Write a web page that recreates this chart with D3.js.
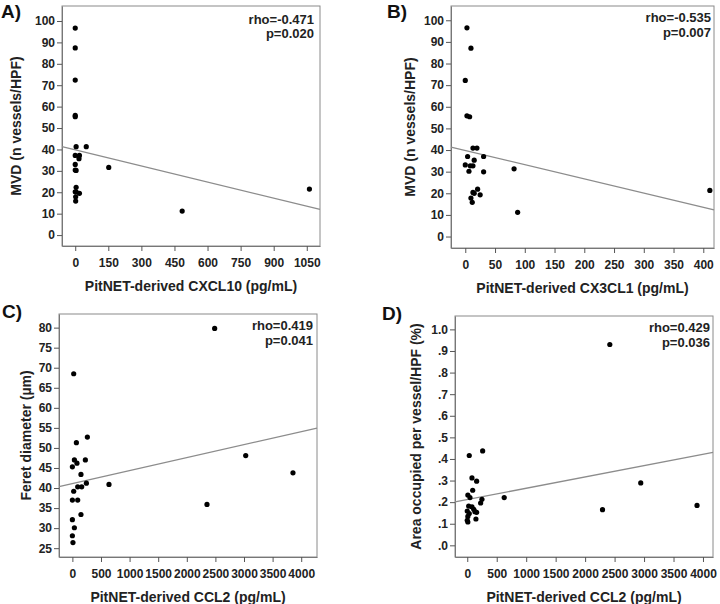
<!DOCTYPE html>
<html><head><meta charset="utf-8">
<script src="https://cdn.jsdelivr.net/npm/d3@7"></script>
<style>
body{margin:0;background:#fff;}
svg{font-family:"Liberation Sans",Arial,sans-serif;font-weight:bold;}
</style></head>
<body>
<svg id="chart" width="720" height="604"></svg>
<script>
// Panel A: CXCL10 vs MVD
const cxcl10X = [0,0,0,0,0,4,50,0,19,17,0,0,4,152,4,0,4,19,2,2,485,1062];
const mvdA    = [96.7,87.4,72.4,55.9,55.3,41.3,41.3,37.2,37.2,35.7,33.0,30.4,30.2,31.6,22.3,20.2,20.2,19.5,17.9,15.9,11.2,21.5];
// Panel B: CX3CL1 vs MVD
const cx3cl1X = [2.8,9.5,0,2.8,7.3,12.9,19.6,3.9,30.8,15,0,8.4,12.9,6.2,30.8,82,20.7,12.9,15,25,9.5,11.7,88,411];
const mvdB    = [96.5,87.1,72.2,55.8,55.4,40.9,40.9,37.0,37.0,35.3,33.1,32.7,32.7,30.2,29.9,31.3,21.9,20.4,20.0,19.3,17.8,15.8,11.2,21.3];
// Panel C: CCL2 vs Feret diameter
const ccl2C   = [23,70,262,35,0,80,227,150,245,640,23,93,163,0,93,150,0,35,0,10,2353,3030,2487,3856];
const feretC  = [68.5,51.3,52.7,47.0,45.3,46.2,47.0,43.4,41.2,40.9,39.2,40.3,40.3,37.0,37.0,33.4,32.1,30.1,28.1,26.4,35.9,48.1,79.8,43.8];
// Panel D: CCL2 vs area per vessel
const ccl2D   = [34,261,80,159,92,10,46,249,227,627,24,80,110,0,34,130,159,10,0,10,147,2295,2419,2944,3899];
const areaD   = [0.416,0.437,0.312,0.297,0.255,0.233,0.221,0.213,0.196,0.221,0.182,0.178,0.167,0.159,0.147,0.156,0.153,0.134,0.116,0.108,0.122,0.165,0.930,0.289,0.185];

const panelLabels = ["A)","B)","C)","D)"];
const xTitles = ["PitNET-derived CXCL10 (pg/mL)","PitNET-derived CX3CL1 (pg/mL)","PitNET-derived CCL2 (pg/mL)","PitNET-derived CCL2 (pg/mL)"];
const yTitles = ["MVD (n vessels/HPF)","MVD (n vessels/HPF)","Feret diameter (\u00b5m)","Area occupied per vessel/HPF (%)"];
const rhoTexts = ["rho=-0.471","rho=-0.535","rho=0.419","rho=0.429"];
const pTexts = ["p=0.020","p=0.007","p=0.041","p=0.036"];
const xTicksA = [0,150,300,450,600,750,900,1050];
const xTicksB = [0,50,100,150,200,250,300,350,400];
const xTicksCD = [0,500,1000,1500,2000,2500,3000,3500,4000];
const yTicksMVD = [0,10,20,30,40,50,60,70,80,90,100];
const yTicksFeret = [25,30,35,40,45,50,55,60,65,70,75,80];
const yTicksArea = [0,0.1,0.2,0.3,0.4,0.5,0.6,0.7,0.8,0.9,1.0];
const fitIntercepts = [39.8,39.8,41.1,0.212];
const fitSlopes = [-0.02504,-0.0658,0.00324,0.0000525];

const svg = d3.select("#chart");

const panels = [
  {x:cxcl10X,y:mvdA,xd:[-60,1110],yd:[-5.1,107],L:62,R:320,T:6,B:246,xt:xTicksA,yt:yTicksMVD,yf:d=>d,
   lab:[1,18],ytx:16,rhoX:314,rhoY:[24,38]},
  {x:cx3cl1X,y:mvdB,xd:[-24,418],yd:[-5.3,106.6],L:451,R:714,T:6,B:248,xt:xTicksB,yt:yTicksMVD,yf:d=>d,
   lab:[387,18],ytx:410,rhoX:711,rhoY:[22,37]},
  {x:ccl2C,y:feretC,xd:[-234,4276],yd:[22.8,83.4],L:59,R:317,T:314,B:557,xt:xTicksCD,yt:yTicksFeret,yf:d=>d,
   lab:[2,318],ytx:26,rhoX:313,rhoY:[330,345]},
  {x:ccl2D,y:areaD,xd:[-208,4170],yd:[-0.054,1.062],L:455,R:713,T:316,B:557,xt:xTicksCD,yt:yTicksArea,
   yf:d=>d===1?"1.0":d3.format(".1f")(d).replace(/^0/,""),
   lab:[382,320],ytx:416,rhoX:710,rhoY:[332,347]}
];

panels.forEach((p,i)=>{
  const xs = d3.scaleLinear().domain(p.xd).range([p.L,p.R]);
  const ys = d3.scaleLinear().domain(p.yd).range([p.B,p.T]);
  const g = svg.append("g");
  // frame
  g.append("rect").attr("x",p.L).attr("y",p.T).attr("width",p.R-p.L).attr("height",p.B-p.T)
    .attr("fill","none").attr("stroke","#8a8a8a").attr("stroke-width",1);
  // axes
  const ax = g.append("g").attr("transform",`translate(0,${p.B})`)
    .call(d3.axisBottom(xs).tickValues(p.xt).tickSize(5).tickSizeOuter(0).tickPadding(7).tickFormat(d3.format("d")));
  const ay = g.append("g").attr("transform",`translate(${p.L},0)`)
    .call(d3.axisLeft(ys).tickValues(p.yt).tickSize(5).tickSizeOuter(0).tickPadding(2).tickFormat(p.yf));
  [ax,ay].forEach(a=>{
    a.select(".domain").attr("stroke","#777");
    a.selectAll(".tick line").attr("stroke","#555");
    a.selectAll("text").attr("fill","#222").style("font-size","12px").style("font-weight","bold")
     .style("font-family","'Liberation Sans',Arial,sans-serif");
  });
  // regression line
  const x0=p.xd[0], x1=p.xd[1];
  const lineData=[[x0,fitIntercepts[i]+fitSlopes[i]*x0],[x1,fitIntercepts[i]+fitSlopes[i]*x1]];
  g.append("path").datum(lineData)
    .attr("d",d3.line().x(d=>xs(d[0])).y(d=>ys(d[1])))
    .attr("stroke","#8c8c8c").attr("stroke-width",1.3).attr("fill","none");
  // points
  g.selectAll("circle.pt").data(p.x.map((v,k)=>[v,p.y[k]])).join("circle")
    .attr("class","pt").attr("cx",d=>xs(d[0])).attr("cy",d=>ys(d[1])).attr("r",2.6).attr("fill","#000");
  // stats
  g.append("text").attr("x",p.rhoX).attr("y",p.rhoY[0]).attr("text-anchor","end")
    .style("font-size","13px").attr("fill","#222").text(rhoTexts[i]);
  g.append("text").attr("x",p.rhoX).attr("y",p.rhoY[1]).attr("text-anchor","end")
    .style("font-size","13px").attr("fill","#222").text(pTexts[i]);
  // titles
  g.append("text").attr("x",(p.L+p.R)/2).attr("y",p.B+45).attr("text-anchor","middle")
    .style("font-size","14px").attr("fill","#222").text(xTitles[i]);
  g.append("text").attr("transform",`translate(${p.ytx},${(p.T+p.B)/2}) rotate(-90)`)
    .attr("text-anchor","middle").attr("dy","0.35em")
    .style("font-size","14px").attr("fill","#222").text(yTitles[i]);
  g.append("text").attr("x",p.lab[0]).attr("y",p.lab[1])
    .style("font-size","19px").attr("fill","#111").text(panelLabels[i]);
});
</script>
</body></html>
